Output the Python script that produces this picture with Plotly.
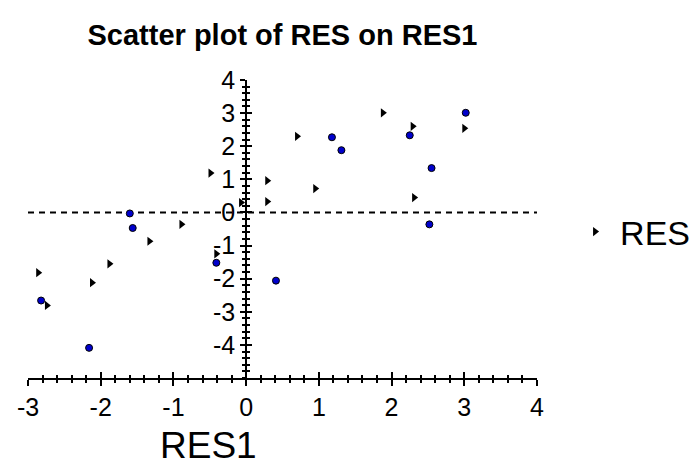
import plotly.graph_objects as go

# RES plotted against RES1 (black markers, shown in the legend)
res1_black = [-2.86, -2.74, -2.12, -1.88, -1.33, -0.89, -0.49, -0.41, -0.07,
              0.29, 0.29, 0.70, 0.95, 1.88, 2.29, 2.31, 3.00]
res_black = [-1.82, -2.81, -2.12, -1.55, -0.87, -0.36, 1.19, -1.25, 0.30,
             0.96, 0.33, 2.30, 0.72, 3.01, 2.60, 0.45, 2.54]

# highlighted observations (blue markers)
res1_blue = [-2.82, -2.16, -1.60, -1.56, -0.41, 0.41, 1.18, 1.31, 2.25, 2.55, 2.52, 3.02]
res_blue = [-2.66, -4.09, -0.03, -0.47, -1.52, -2.06, 2.27, 1.88, 2.33, 1.34, -0.36, 3.01]

x_ticks = [-3, -2, -1, 0, 1, 2, 3, 4]
y_ticks = [-4, -3, -2, -1, 0, 1, 2, 3, 4]
x_range = [-3, 4]
y_range = [-5, 4]

FONT = "Liberation Sans, Arial, sans-serif"
y_axis_pos = (0 - x_range[0]) / (x_range[1] - x_range[0])

fig = go.Figure()
fig.add_trace(go.Scatter(
    x=res1_black, y=res_black, mode="markers", name="RES",
    marker=dict(symbol="triangle-right", size=8, color="black",
                line=dict(width=0)),
    xaxis="x", yaxis="y",
))
fig.add_trace(go.Scatter(
    x=res1_blue, y=res_blue, mode="markers", name="RES (hi)", showlegend=False,
    marker=dict(symbol="circle", size=7, color="#0000cc",
                line=dict(width=1, color="black")),
    xaxis="x2", yaxis="y2",
))

# plain hyphen-minus labels
x_text = [str(v) for v in x_ticks]
y_text = [str(v) for v in y_ticks]

common_x = dict(range=x_range, showgrid=False, zeroline=False,
                linecolor="black", linewidth=2, tickcolor="black", tickwidth=2,
                ticklen=6, tickmode="array", tickvals=x_ticks, ticktext=x_text)
common_y = dict(range=y_range, showgrid=False, zeroline=False,
                linecolor="black", linewidth=2, tickcolor="black", tickwidth=2,
                ticklen=5, tickmode="array", tickvals=y_ticks, ticktext=y_text,
                anchor="free", position=y_axis_pos)

fig.update_layout(
    width=700, height=466,
    margin=dict(l=28, r=163, t=80, b=88, autoexpand=False),
    paper_bgcolor="white", plot_bgcolor="white",
    font=dict(family=FONT, color="black"),
    title=dict(text="<b>Scatter plot of RES on RES1</b>",
               font=dict(size=29, family=FONT, color="black"),
               x=0.5, xanchor="center", xref="paper",
               y=1 - 35 / 466, yanchor="middle", yref="container"),
    xaxis=dict(**common_x, showline=True, ticks="outside",
               tickfont=dict(size=25), anchor="y",
               minor=dict(ticks="outside", ticklen=3, tickwidth=1.5,
                          tickcolor="black", dtick=0.2, tick0=0)),
    xaxis2=dict(**common_x, showline=False, ticks="inside",
                showticklabels=False, overlaying="x", anchor="y2",
                minor=dict(ticks="inside", ticklen=3, tickwidth=1.5,
                           tickcolor="black", dtick=0.2, tick0=0)),
    yaxis=dict(**common_y, showline=True, ticks="outside",
               tickfont=dict(size=25),
               minor=dict(ticks="outside", ticklen=3, tickwidth=1.5,
                          tickcolor="black", dtick=0.2, tick0=0)),
    yaxis2=dict(**common_y, showline=False, ticks="inside",
                showticklabels=False, overlaying="y",
                minor=dict(ticks="inside", ticklen=3, tickwidth=1.5,
                           tickcolor="black", dtick=0.2, tick0=0)),
    showlegend=True,
    legend=dict(x=1.065, xanchor="left", y=0.49, yanchor="middle",
                font=dict(size=34, family=FONT), bgcolor="rgba(0,0,0,0)",
                borderwidth=0, itemwidth=40),
    shapes=[dict(type="line", xref="paper", yref="y", x0=0, x1=1, y0=0, y1=0,
                 line=dict(color="black", width=2, dash="6px,5px"),
                 layer="below")],
    annotations=[dict(text="RES1", xref="paper", yref="paper",
                      x=0.354, y=-0.225, xanchor="center", yanchor="middle",
                      showarrow=False, font=dict(size=37, family=FONT))],
)

fig.write_html("out.html")
